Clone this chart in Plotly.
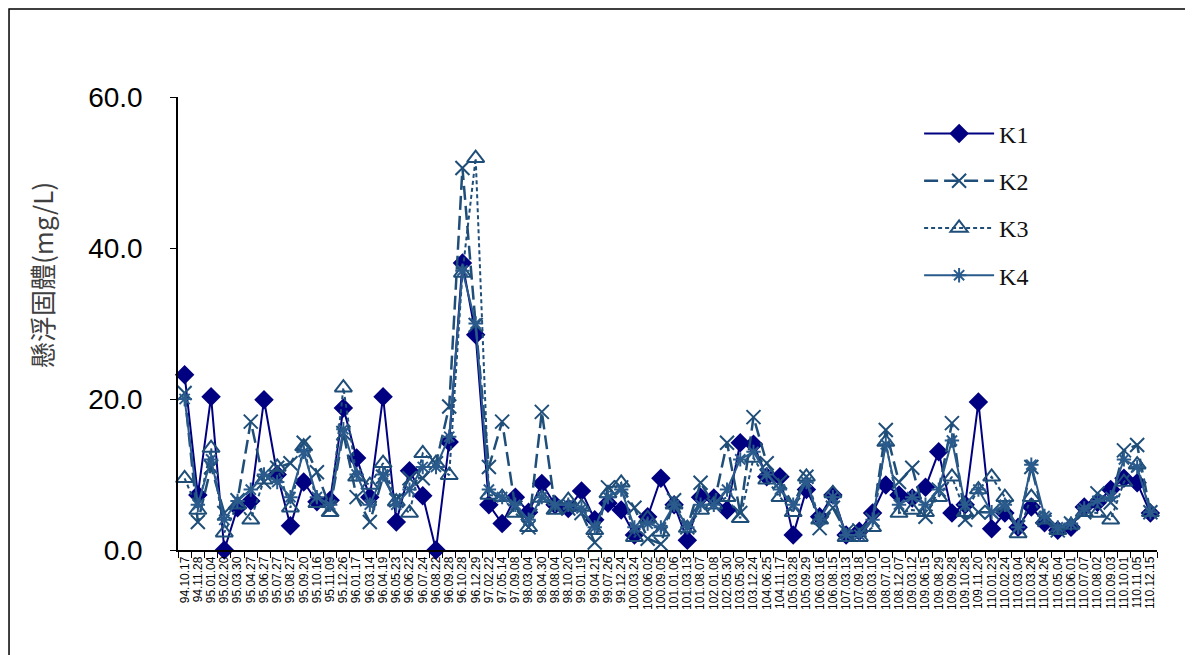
import plotly.graph_objects as go

dates = ["94.10.17", "94.11.28", "95.01.04", "95.02.20", "95.03.30", "95.04.27", "95.06.27", "95.07.27",
         "95.08.27", "95.09.20", "95.10.16", "95.11.09", "95.12.26", "96.01.17", "96.03.14", "96.04.19",
         "96.05.23", "96.06.22", "96.07.24", "96.08.22", "96.09.28", "96.10.28", "96.12.29", "97.02.22",
         "97.05.14", "97.09.08", "98.03.04", "98.04.30", "98.08.04", "98.10.20", "99.01.19", "99.04.21",
         "99.07.26", "99.12.24", "100.03.24", "100.06.02", "100.09.05", "101.01.06", "101.03.13", "101.08.07",
         "102.01.08", "102.05.30", "103.05.30", "103.12.24", "104.06.25", "104.11.17", "105.03.28", "105.09.29",
         "106.03.16", "106.08.15", "107.03.13", "107.09.18", "108.03.10", "108.07.10", "108.12.07", "109.03.12",
         "109.06.15", "109.08.29", "109.09.28", "109.10.28", "109.11.20", "110.01.23", "110.02.24", "110.03.04",
         "110.03.26", "110.04.26", "110.05.04", "110.06.01", "110.07.07", "110.08.02", "110.09.03", "110.10.01",
         "110.11.05", "110.12.15"]

k1 = [23.2, 7.3, 20.3, 0.0, 5.6, 6.5, 19.9, 10.0, 3.2, 9.0, 6.4, 6.6, 18.8, 12.2, 7.0, 20.3,
      3.7, 10.5, 7.2, 0.0, 14.3, 38.0, 28.5, 6.0, 3.5, 7.0, 5.0, 8.8, 6.0, 5.5, 7.8, 4.0,
      6.2, 5.3, 2.0, 4.4, 9.5, 6.0, 1.3, 7.0, 6.9, 5.3, 14.2, 14.0, 9.7, 9.7, 2.0, 8.0,
      4.4, 7.3, 2.0, 2.5, 4.9, 8.6, 7.3, 6.9, 8.3, 13.0, 4.9, 6.0, 19.6, 2.8, 4.9, 3.0,
      5.7, 3.6, 2.6, 3.0, 5.7, 6.3, 8.0, 9.5, 8.9, 4.9]

k2 = [20.8, 3.7, 11.0, 4.9, 6.6, 17.0, 9.0, 10.9, 11.5, 14.2, 10.3, 5.6, 15.5, 7.0, 3.7, 9.7,
      6.6, 9.5, 9.5, 11.5, 19.0, 50.6, 29.8, 11.0, 17.0, 5.6, 3.0, 18.3, 5.7, 5.5, 4.9, 1.0,
      8.3, 8.3, 5.6, 1.5, 0.8, 6.6, 3.0, 8.9, 6.0, 14.2, 4.9, 17.6, 11.5, 9.0, 6.0, 9.7,
      2.9, 5.6, 2.4, 2.6, 4.0, 15.9, 9.0, 10.9, 4.4, 8.0, 16.8, 4.0, 5.0, 5.0, 5.6, 3.0,
      11.0, 4.0, 2.6, 3.5, 5.0, 7.5, 6.3, 13.2, 13.9, 5.0]

k3 = [9.5, 5.3, 13.5, 2.3, 6.0, 4.0, 9.3, 11.0, 5.6, 13.7, 6.2, 5.0, 21.5, 9.7, 8.6, 11.5,
      6.4, 4.9, 12.8, 11.5, 9.9, 36.7, 51.9, 7.3, 7.0, 4.9, 3.0, 6.9, 5.3, 6.6, 5.7, 2.6,
      7.5, 8.9, 1.7, 4.2, 2.4, 6.0, 2.9, 5.3, 6.0, 7.0, 4.2, 12.2, 9.3, 7.0, 5.0, 9.7,
      4.0, 7.5, 1.7, 1.7, 3.0, 14.3, 4.9, 5.3, 5.0, 7.0, 9.7, 5.0, 8.0, 9.7, 7.0, 2.2,
      7.0, 4.0, 2.6, 3.3, 5.0, 4.9, 4.0, 9.0, 11.3, 5.0]

k4 = [20.0, 6.0, 12.0, 4.0, 6.5, 8.0, 10.0, 9.0, 7.0, 13.0, 7.0, 6.0, 16.0, 10.0, 6.0, 10.0,
      6.0, 8.0, 11.0, 11.0, 15.0, 37.0, 30.0, 8.0, 7.0, 6.0, 4.0, 7.0, 6.0, 6.0, 5.5, 3.0,
      7.0, 8.0, 3.0, 3.5, 3.0, 6.0, 3.0, 6.0, 6.0, 8.0, 12.0, 13.0, 10.0, 8.0, 6.0, 9.0,
      4.0, 7.0, 2.0, 2.0, 4.0, 14.0, 6.0, 7.0, 6.0, 8.0, 14.5, 6.0, 8.0, 5.0, 6.0, 3.0,
      11.3, 4.5, 3.0, 3.5, 5.5, 6.5, 7.0, 12.0, 11.0, 5.0]

y_ticks = [0, 20, 40, 60]

C1 = "#000080"
C2 = "#1f4e79"
C3 = "#1f4e79"
C4 = "#2a5b8c"

fig = go.Figure()
fig.add_trace(go.Scatter(x=dates, y=k1, name="K1", mode="lines+markers", legendgroup="1",
                         line=dict(color=C1, width=2),
                         marker=dict(symbol="diamond", size=15, color=C1), cliponaxis=False))
fig.add_trace(go.Scatter(x=dates, y=k2, name="K2", mode="lines+markers", legendgroup="2",
                         line=dict(color=C2, width=2.5, dash="14px,6px"),
                         marker=dict(symbol="x-thin-open", size=14, color=C2, line=dict(width=2, color=C2)),
                         cliponaxis=False))
fig.add_trace(go.Scatter(x=dates, y=k3, name="K3", mode="lines+markers", legendgroup="3",
                         line=dict(color=C3, width=2, dash="4px,3px"),
                         marker=dict(symbol="triangle-up-open", size=15, color=C3, line=dict(width=2, color=C3)),
                         cliponaxis=False))
fig.add_trace(go.Scatter(x=dates, y=k4, name="K4", mode="lines+markers", legendgroup="4",
                         line=dict(color=C4, width=2),
                         marker=dict(symbol="asterisk-open", size=12, color=C4, line=dict(width=2, color=C4)),
                         cliponaxis=False))

fig.update_layout(
    width=1185, height=647,
    margin=dict(l=170, r=36, t=89, b=105),
    paper_bgcolor="white", plot_bgcolor="white",
    showlegend=True,
    legend=dict(x=0.757, y=0.968, xanchor="left", yanchor="top",
                font=dict(family="Liberation Serif", size=24, color="#111"),
                bgcolor="rgba(0,0,0,0)", tracegroupgap=13, itemwidth=70),
    xaxis=dict(type="category", range=[-0.5, len(dates) - 0.5], showline=True, linecolor="black",
               linewidth=1.5, ticks="outside", tickson="boundaries", ticklen=6, tickcolor="black",
               tickmode="linear", tick0=0, dtick=1,
               tickangle=-90, tickfont=dict(family="Liberation Sans", size=12, color="black"),
               showgrid=False, zeroline=False),
    yaxis=dict(range=[0, 60], tickvals=y_ticks, tickformat=".1f", showline=True, linecolor="black",
               linewidth=1.5, ticks="outside", ticklen=6, tickcolor="black", showgrid=False, zeroline=False,
               tickfont=dict(family="Liberation Sans", size=28, color="black"), ticklabelstandoff=22),
    annotations=[dict(text="懸浮固體(mg/L)", xref="paper", yref="paper", x=-0.14, y=0.607,
                      xanchor="center", yanchor="middle",
                      textangle=-90, showarrow=False,
                      font=dict(family="Noto Sans CJK TC", size=26, color="#404040"))],
    shapes=[dict(type="rect", xref="paper", yref="paper", x0=-0.1726, x1=1.0296, y0=-0.3, y1=1.1945,
                 line=dict(color="black", width=1.5), layer="below")],
)

fig.write_html("out.html")
